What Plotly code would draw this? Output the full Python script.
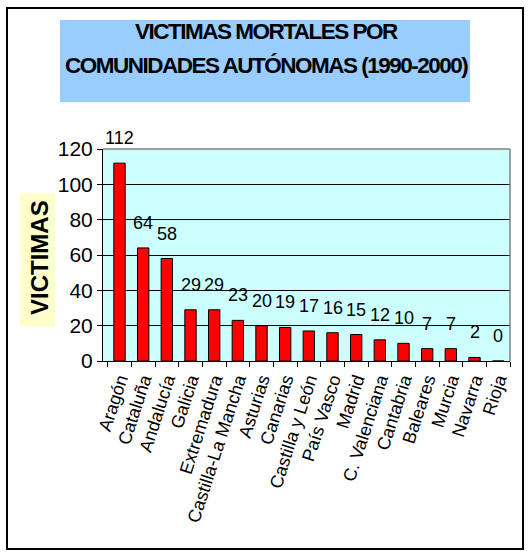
import plotly.graph_objects as go

regions = ["Aragón", "Cataluña", "Andalucía", "Galicia", "Extremadura", "Castilla-La Mancha",
           "Asturias", "Canarias", "Castilla y León", "País Vasco", "Madrid", "C. Valenciana",
           "Cantabria", "Baleares", "Murcia", "Navarra", "Rioja"]
victims = [112, 64, 58, 29, 29, 23, 20, 19, 17, 16, 15, 12, 10, 7, 7, 2, 0]
y_ticks = [0, 20, 40, 60, 80, 100, 120]

title_lines = ["VICTIMAS MORTALES POR", "COMUNIDADES AUTÓNOMAS (1990-2000)"]
y_title = "VICTIMAS"

W, H = 531, 559
L, R, T, B = 103, 510, 149, 361
FONT = "Arial, Liberation Sans, sans-serif"


def px(x):
    return (x - L) / (R - L)


def py(y):
    return (B - y) / (B - T)


fig = go.Figure()
fig.add_trace(go.Bar(
    x=regions, y=victims,
    marker=dict(color="#FF0000", line=dict(color="black", width=1)),
    hoverinfo="x+y",
))

annotations = []
for r, v in zip(regions, victims):
    annotations.append(dict(
        x=r, y=v, xref="x", yref="y", text=str(v), showarrow=False,
        yanchor="bottom", yshift=13,
        font=dict(family=FONT, size=18, color="black"),
    ))

annotations.append(dict(
    x=px(266), y=py(31), xref="paper", yref="paper", showarrow=False,
    text='<span style="letter-spacing:-1.5px">' + title_lines[0] + '</span>',
    xanchor="center", yanchor="middle",
    font=dict(family=FONT, size=22.5, color="black", weight="bold"),
))
annotations.append(dict(
    x=px(266), y=py(66), xref="paper", yref="paper", showarrow=False,
    text='<span style="letter-spacing:-1.5px">' + title_lines[1] + '</span>',
    xanchor="center", yanchor="middle",
    font=dict(family=FONT, size=22.5, color="black", weight="bold"),
))
annotations.append(dict(
    x=px(39), y=py(258), xref="paper", yref="paper", showarrow=False,
    text=y_title, textangle=-90, xanchor="center", yanchor="middle",
    font=dict(family=FONT, size=24, color="black", weight="bold"),
))

shapes = [
    # outer frame
    dict(type="rect", xref="paper", yref="paper", x0=px(7), x1=px(523), y0=py(549), y1=py(8),
         line=dict(color="black", width=2), fillcolor="rgba(0,0,0,0)", layer="below"),
    # title box
    dict(type="rect", xref="paper", yref="paper", x0=px(60), x1=px(470), y0=py(102), y1=py(20),
         line=dict(width=0), fillcolor="#99CCFF", layer="below"),
    # y title box
    dict(type="rect", xref="paper", yref="paper", x0=px(20), x1=px(55), y0=py(327), y1=py(193),
         line=dict(width=0), fillcolor="#FFFFCC", layer="below"),
    # gray plot border top/right
    dict(type="line", xref="paper", yref="paper", x0=0, x1=1, y0=1, y1=1,
         line=dict(color="#808080", width=1.5)),
    dict(type="line", xref="paper", yref="paper", x0=1, x1=1, y0=0, y1=1,
         line=dict(color="#808080", width=1.5)),
]

fig.update_layout(
    width=W, height=H,
    margin=dict(l=L, r=W - R, t=T, b=H - B),
    paper_bgcolor="white",
    plot_bgcolor="#CCFFFF",
    bargap=0.52,
    showlegend=False,
    annotations=annotations,
    shapes=shapes,
    font=dict(family=FONT, color="black"),
    xaxis=dict(
        type="category", tickangle=-72, tickson="boundaries",
        ticks="outside", ticklen=5, tickcolor="black", tickwidth=1,
        showline=True, linecolor="black", linewidth=1,
        showgrid=False, tickfont=dict(family=FONT, size=18, color="black"),
        fixedrange=True,
    ),
    yaxis=dict(
        range=[0, 120], tickvals=y_ticks, ticktext=[str(t) for t in y_ticks],
        ticks="outside", ticklen=5, tickcolor="black", tickwidth=1,
        showline=True, linecolor="black", linewidth=1,
        showgrid=True, gridcolor="black", gridwidth=1,
        zeroline=False,
        tickfont=dict(family=FONT, size=21, color="black"),
        fixedrange=True,
    ),
)

fig.write_html("out.html")
